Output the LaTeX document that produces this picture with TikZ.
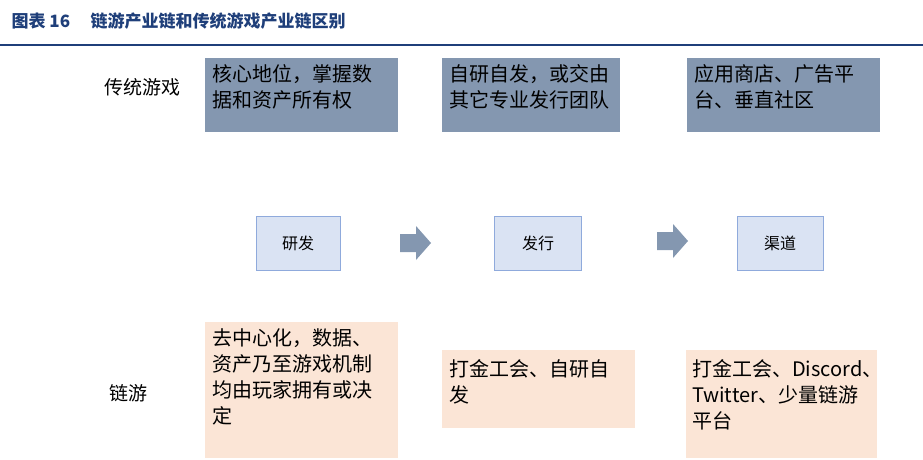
\documentclass[tikz,border=0pt]{standalone}
\usepackage{fontspec}
\setmainfont{Noto Sans CJK SC}
\definecolor{titleblue}{HTML}{1F3F7A}
\definecolor{topfill}{HTML}{8497B0}
\definecolor{midfill}{HTML}{DAE3F3}
\definecolor{midline}{HTML}{8FAADC}
\definecolor{botfill}{HTML}{FBE5D6}
\definecolor{arrfill}{HTML}{8497B0}
\begin{document}
\begin{tikzpicture}[x=1pt,y=-1pt,
  btxt/.style={anchor=north west,align=left,font=\fontsize{20}{26}\selectfont,inner sep=0pt},
  mtxt/.style={font=\fontsize{16}{19}\selectfont},
  side/.style={font=\fontsize{19}{23}\selectfont},
  midbox/.style={fill=midfill,draw=midline,line width=0.8pt},
  blockarr/.style={fill=arrfill,draw=none}]
\useasboundingbox (0,0) rectangle (923,460);
\node[anchor=west,font=\bfseries\fontsize{17}{20}\selectfont,text=titleblue] (title) at (8,21) {图表 16\hspace{1.2em}链游产业链和传统游戏产业链区别};
\draw[titleblue,line width=2pt] (0,45) coordinate (l1) -- (923,45) coordinate (l2);
% top
\fill[topfill] (205,58) rectangle (398,132);
\node[btxt] (t1) at (212,64) {核心地位，掌握数\\据和资产所有权};
\fill[topfill] (442,58) rectangle (620,132);
\node[btxt] (t2) at (449,64) {自研自发，或交由\\其它专业发行团队};
\fill[topfill] (687,58) rectangle (880,132);
\node[btxt] (t3) at (694,64) {应用商店、广告平\\台、垂直社区};
\node[side] (s1) at (142,87) {传统游戏};
\node[side] (s2) at (128,393) {链游};
% middle
\node[midbox,mtxt,minimum width=84pt,minimum height=54pt] (m1) at (298,243) {研发};
\node[midbox,mtxt,minimum width=87pt,minimum height=54pt] (m2) at (538,243) {发行};
\node[midbox,mtxt,minimum width=86pt,minimum height=54pt] (m3) at (780,243) {渠道};
\coordinate (a1) at (400,243);
\coordinate (a2) at (657,241);
\foreach \c in {a1,a2}
  \fill[blockarr,shift={(\c)}] (0,-9) -- (16,-9) -- (16,-17) -- (31,0) -- (16,17) -- (16,9) -- (0,9) -- cycle;
% bottom
\fill[botfill] (205,322) rectangle (398,458);
\node[btxt] (b1) at (212,328) {去中心化，数据、\\资产乃至游戏机制\\均由玩家拥有或决\\定};
\fill[botfill] (442,350) rectangle (635,428);
\node[btxt] (b2) at (449,359) {打金工会、自研自\\发};
\fill[botfill] (686,350) rectangle (877,458);
\node[btxt] (b3) at (692,359) {打金工会、Discord、\\Twitter、少量链游\\平台};
\end{tikzpicture}
\end{document}
